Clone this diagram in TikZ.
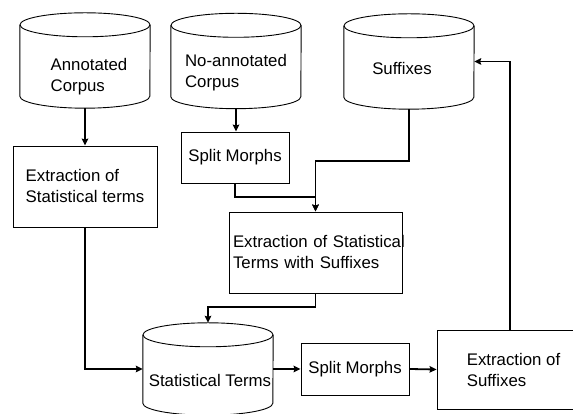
\documentclass[tikz,border=0pt]{standalone}
\usepackage{fontspec}
\setmainfont{Liberation Sans}
\usetikzlibrary{arrows.meta}

% base de dades: nom, x, y, alcada
\newcommand{\database}[4]{%
    \node[minimum width=130pt, minimum height=#4, inner sep=0pt] (#1) at (#2,#3) {};
    \draw[line width=0.9pt] ([yshift=-12pt]#1.north) ellipse (65pt and 12pt);
    \draw[line width=0.9pt] ([yshift=-12pt]#1.north west) -- ([yshift=12pt]#1.south west)
        arc (180:360:65pt and 12pt) -- ([yshift=-12pt]#1.north east);
}

\begin{document}
\begin{tikzpicture}[x=1pt, y=1pt,
    font=\fontsize{16.8}{21}\selectfont,
    procbox/.style={rectangle, draw, line width=0.9pt, inner sep=0pt, align=center},
    conn/.style={line width=1.8pt, -{Stealth[length=7pt, width=6.5pt, inset=1pt]}}]

    % 1. FULL (marges)
    \path[use as bounding box, clip] (0,0) rectangle (573,414);

    % 2. BASES DE DADES
    \database{annot}{85}{353.5}{95pt}
    \database{noannot}{236}{353}{95pt}
    \database{suffix}{409}{352.5}{95pt}
    \database{stat}{208}{45}{92pt}

    \node[align=left] (annottxt) at (89,337.5) {Annotated\\Corpus};
    \node[align=left] (noannottxt) at (236,341) {No-annotated\\Corpus};
    \node (suffixtxt) at (402,345) {Suffixes};
    \node (stattxt) at (210,34) {Statistical Terms};

    % 3. PROCESSOS
    \node[procbox, minimum width=144pt, minimum height=81pt, align=left] (extstat) at (85,227.5)
        {Extraction of\\Statistical terms};
    \node[procbox, minimum width=108pt, minimum height=51pt] (split1) at (235,256.5) {Split Morphs};
    \node[procbox, text width=165pt, inner xsep=4pt, minimum height=81pt, align=left] (extsuf) at (315.5,161.5)
        {\mbox{Extraction of Statistical}\\Terms with Suffixes};
    \node[procbox, minimum width=108pt, minimum height=52pt] (split2) at (355,45) {Split Morphs};
    \node[procbox, minimum width=153pt, minimum height=79pt, align=left] (ext3) at (513.5,44.5)
        {Extraction of\\Suffixes};

    % 4. FLETXES
    \draw[conn] (annot.south) -- (extstat.north);
    \draw[conn] (noannot.south) -- (noannot.south |- split1.north);
    \draw[conn] (split1.south) -- ++(0,-13.5) -| (extsuf.north);
    \draw[conn] (suffix.south) -- ++(0,-52) -| (extsuf.north);
    \draw[conn] (extsuf.south) -- ++(0,-13.5) -| (stat.north);
    \draw[conn] (extstat.south) |- (stat.west);
    \draw[conn] (stat.east) -- (split2.west);
    \draw[conn] (split2.east) -- (ext3.west);
    \draw[conn] ([xshift=-3.5pt]ext3.north) |- (suffix.east);

\end{tikzpicture}
\end{document}
